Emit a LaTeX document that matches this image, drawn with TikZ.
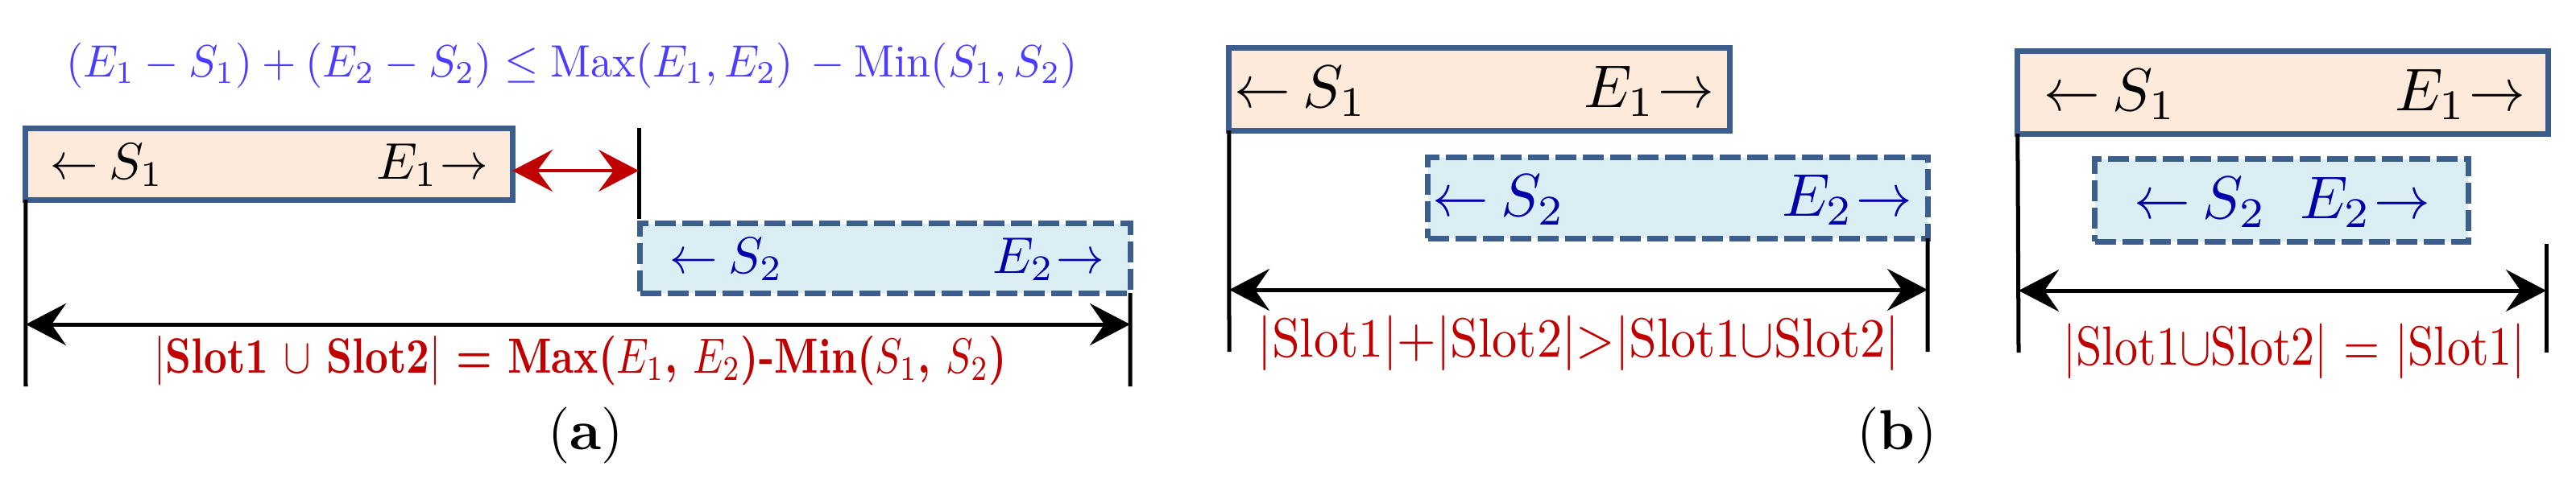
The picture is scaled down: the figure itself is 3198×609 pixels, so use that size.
\documentclass[tikz,border=0pt]{standalone}
\usepackage{fontspec}
\usetikzlibrary{arrows.meta}
\definecolor{bordercol}{RGB}{59,94,140}
\definecolor{peach}{RGB}{253,234,218}
\definecolor{lightblue}{RGB}{219,238,244}
\definecolor{eqblue}{RGB}{75,60,255}
\definecolor{darkblue}{RGB}{0,0,170}
\definecolor{labred}{RGB}{192,0,0}
\newcommand\lar{\scalebox{0.93}[1]{$\leftarrow$}}
\newcommand\rar{\scalebox{0.93}[1]{$\rightarrow$}}
\newcommand\bxA[1]{\scalebox{1.82}{#1}}
\newcommand\bxB[1]{\scalebox{2.13}{#1}}
\tikzset{
  slotA/.style={draw=bordercol, line width=0.07cm, fill=peach, inner sep=0pt, outer sep=0pt},
  slotB/.style={draw=bordercol, line width=0.07cm, fill=lightblue, dash pattern=on 0.26cm off 0.08cm, inner sep=0pt, outer sep=0pt},
  tA/.style={inner sep=0pt, text=black},
  vline/.style={line width=0.05cm, draw=black},
  span/.style={line width=0.05cm, draw=black, {Stealth[length=0.5cm,width=0.52cm,inset=0.18cm]}-{Stealth[length=0.5cm,width=0.52cm,inset=0.18cm]}},
  gaparrow/.style={line width=0.04cm, draw=labred, {Stealth[length=0.5cm,width=0.52cm,inset=0.19cm]}-{Stealth[length=0.5cm,width=0.52cm,inset=0.19cm]}},
  lab/.style={inner sep=0pt, text=labred},
  captext/.style={inner sep=0pt, text=black}
}
\begin{document}
\begin{tikzpicture}[x=0.01cm,y=-0.01cm]
\useasboundingbox (0,0) rectangle (3198,609);
% ---------------- panel (a)
\node[anchor=base, text=eqblue, inner sep=0pt] (eq) at (710,95)
  {\resizebox{12.55cm}{1.6\height}{$(E_1-S_1)+(E_2-S_2)\le \mathrm{Max}(E_1,E_2)\,-\mathrm{Min}(S_1,S_2)$}};
\node[slotA, minimum width=6.04cm, minimum height=0.88cm] (a1) at (334,204) {};
\node[slotB, minimum width=6.08cm, minimum height=0.86cm] (a2) at (1099,321) {};
\node[tA, anchor=base west] (a1s) at (62,222) {\bxA{\lar\hspace{0.2em}$S_1$}};
\node[tA, anchor=base east] (a1e) at (607,222) {\bxA{$E_1$\hspace{0.05em}\rar}};
\node[tA, text=darkblue, anchor=base west] (a2s) at (831,339) {\bxA{\lar\hspace{0.2em}$S_2$}};
\node[tA, text=darkblue, anchor=base east] (a2e) at (1372,339) {\bxA{$E_2$\hspace{0.05em}\rar}};
\coordinate (aLb) at (32,480);
\coordinate (aRb) at (1403,480);
\coordinate (aMt) at (793,159);
\coordinate (aMb) at (793,272);
\coordinate (aArL) at (32,403);
\coordinate (aArR) at (1403,403);
\coordinate (gL) at (636,212);
\coordinate (gR) at (793,212);
\draw[vline] (a1.south west) -- (aLb);
\draw[vline] (a2.south east) -- (aRb);
\draw[vline] (aMt) -- (aMb);
\draw[span] (aArL) -- (aArR);
\draw[gaparrow] (gL) -- (gR);
\node[lab, anchor=base] (laba) at (721,463)
  {\resizebox{10.58cm}{1.75\height}{\textbf{$|$Slot1 $\cup$ Slot2$|$ = Max(}$E_1$\textbf{, }$E_2$\textbf{)-Min(}$S_1$\textbf{, }$S_2$\textbf{)}}};
\node[captext, anchor=base] (capa) at (727,558) {\scalebox{1.99}{(\textbf{a})}};
% ---------------- panel (b), left
\node[slotA, minimum width=6.21cm, minimum height=1.02cm] (b1) at (1836.5,111) {};
\node[slotB, minimum width=6.20cm, minimum height=1.00cm] (b2) at (2083,246) {};
\node[tA, anchor=base west] (b1s) at (1532,133) {\bxB{\lar\hspace{0.2em}$S_1$}};
\node[tA, anchor=base east] (b1e) at (2129,133) {\bxB{$E_1$\hspace{0.05em}\rar}};
\node[tA, text=darkblue, anchor=base west] (b2s) at (1778,268) {\bxB{\lar\hspace{0.2em}$S_2$}};
\node[tA, text=darkblue, anchor=base east] (b2e) at (2375,268) {\bxB{$E_2$\hspace{0.05em}\rar}};
\coordinate (bLb) at (1526,437);
\coordinate (bRb) at (2393,437);
\coordinate (bArL) at (1526,360);
\coordinate (bArR) at (2393,360);
\draw[vline] (b1.south west) -- (bLb);
\draw[vline] (b2.south east) -- (bRb);
\draw[span] (bArL) -- (bArR);
\node[lab, anchor=base] (labb) at (1960,443)
  {\resizebox{7.96cm}{1.95\height}{$|$Slot1$|$+$|$Slot2$|$>$|$Slot1$\cup$Slot2$|$}};
\node[captext, anchor=base] (capb) at (2355,558) {\scalebox{1.99}{(\textbf{b})}};
% ---------------- panel (b), right
\node[slotA, minimum width=6.58cm, minimum height=1.02cm] (c1) at (2834,115) {};
\node[slotB, minimum width=4.63cm, minimum height=1.02cm] (c2) at (2832.5,249) {};
\node[tA, anchor=base west] (c1s) at (2537,137) {\bxB{\lar\hspace{0.2em}$S_1$}};
\node[tA, anchor=base east] (c1e) at (3136,137) {\bxB{$E_1$\hspace{0.05em}\rar}};
\node[tA, text=darkblue, anchor=base west] (c2s) at (2649,271) {\bxB{\lar\hspace{0.2em}$S_2$}};
\node[tA, text=darkblue, anchor=base east] (c2e) at (3018,271) {\bxB{$E_2$\hspace{0.05em}\rar}};
\coordinate (cLb) at (2506,438);
\coordinate (cRt) at (3161,303);
\coordinate (cRb) at (3161,438);
\coordinate (cArL) at (2506,361);
\coordinate (cArR) at (3161,361);
\draw[vline] (c1.south west) -- (cLb);
\draw[vline] (cRt) -- (cRb);
\draw[span] (cArL) -- (cArR);
\node[lab, anchor=base] (labc) at (2848,453)
  {\resizebox{5.73cm}{1.95\height}{$|$Slot1$\cup$Slot2$|$ = $|$Slot1$|$}};
\end{tikzpicture}
\end{document}
